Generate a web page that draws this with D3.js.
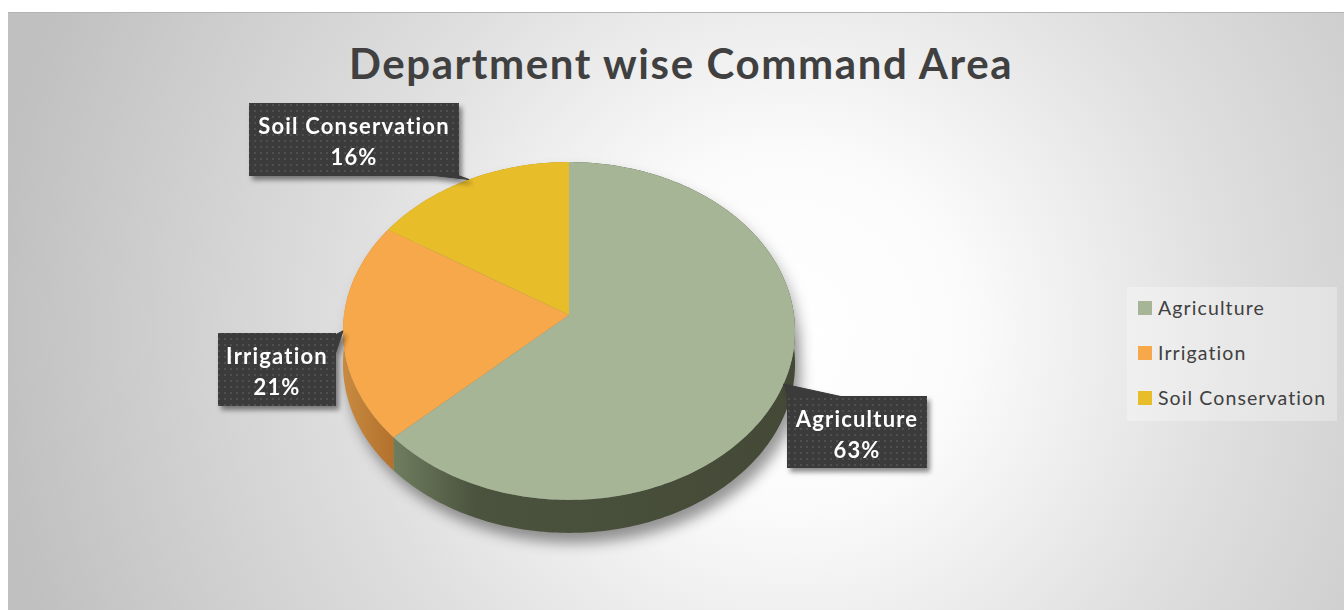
<!DOCTYPE html>
<html>
<head>
<meta charset="utf-8">
<script src="https://cdn.jsdelivr.net/npm/d3@7"></script>
<style>
  html, body { margin: 0; padding: 0; background: #ffffff; overflow: hidden; }
  svg { display: block; }
</style>
</head>
<body>
<svg id="chart" width="1344" height="610"></svg>
<script>
// ---- data ----
const categories = ["Agriculture", "Irrigation", "Soil Conservation"];
const shares = [63, 21, 16];
const percentLabels = ["63%", "21%", "16%"];
const chartTitle = "Department wise Command Area";

// ---- styles ----
const sliceColors = ["#a6b595", "#f7a84a", "#e8bd2a"];
const FONT = "Lato, 'Open Sans', 'DejaVu Sans', sans-serif";

// ---- layout ----
const W = 1344, H = 610;
const pieGeo = { cx: 569, cy: 315, r: 225, tilt: 0.744, persp: 0.0946, depth: 33 };
// data-label callout boxes: position, size and which edge the tail leaves from
const labelBoxes = [
  { x: 787, y: 396, w: 140, h: 72, tail: "top" },
  { x: 218, y: 333, w: 118, h: 73, tail: "right" },
  { x: 249, y: 103, w: 210, h: 73, tail: "bottom" }
];
const legendBox = { x: 1127, y: 287, w: 210, h: 134, rowStart: 308, rowGap: 45 };

const svg = d3.select("#chart");
const defs = svg.append("defs");

// background: soft radial gradient
const bgGrad = defs.append("radialGradient")
  .attr("id", "bgGrad").attr("gradientUnits", "userSpaceOnUse")
  .attr("cx", 790).attr("cy", 330).attr("r", 800);
[[0, "#ffffff"], [0.22, "#fbfbfb"], [0.55, "#dfdfdf"], [1, "#c0c0c0"]]
  .forEach(([o, c]) => bgGrad.append("stop").attr("offset", o).attr("stop-color", c));

svg.append("rect").attr("x", 8).attr("y", 12).attr("width", W - 8).attr("height", H - 12)
  .attr("fill", "url(#bgGrad)");
svg.append("line").attr("x1", 8).attr("x2", W).attr("y1", 12.5).attr("y2", 12.5)
  .attr("stroke", "#b4b4b4").attr("stroke-width", 1);

// filters
const blur = defs.append("filter").attr("id", "pieShadow")
  .attr("x", "-20%").attr("y", "-20%").attr("width", "140%").attr("height", "140%");
blur.append("feGaussianBlur").attr("stdDeviation", 7);

const drop = defs.append("filter").attr("id", "boxShadow")
  .attr("x", "-20%").attr("y", "-20%").attr("width", "140%").attr("height", "150%");
drop.append("feDropShadow").attr("dx", 3).attr("dy", 4).attr("stdDeviation", 2.5)
  .attr("flood-color", "#000").attr("flood-opacity", 0.45);

// dotted fill for callouts
const pat = defs.append("pattern").attr("id", "dots").attr("patternUnits", "userSpaceOnUse")
  .attr("width", 6).attr("height", 6);
pat.append("rect").attr("width", 6).attr("height", 6).attr("fill", "#3a3a3a");
pat.append("rect").attr("x", 2).attr("y", 2).attr("width", 2).attr("height", 2).attr("fill", "#4f4f4f");

// side-wall gradients
const sideGrads = [
  { id: "sideAgri", x1: 394, x2: 800, stops: [[0, "#6f7d5f"], [0.2, "#4b533e"], [1, "#434936"]] },
  { id: "sideIrr", x1: 343, x2: 396, stops: [[0, "#c88a40"], [1, "#b1702c"]] },
  { id: "sideSoil", x1: 380, x2: 570, stops: [[0, "#b8941c"], [1, "#a8861a"]] }
];
sideGrads.forEach(g => {
  const lg = defs.append("linearGradient").attr("id", g.id).attr("gradientUnits", "userSpaceOnUse")
    .attr("x1", g.x1).attr("x2", g.x2).attr("y1", 0).attr("y2", 0);
  g.stops.forEach(([o, c]) => lg.append("stop").attr("offset", o).attr("stop-color", c));
});

// ---- title ----
svg.append("text")
  .attr("x", 681).attr("y", 79)
  .attr("text-anchor", "middle")
  .attr("font-family", FONT).attr("font-weight", 700).attr("font-size", 42)
  .attr("letter-spacing", 1.6)
  .attr("fill", "#404040")
  .text(chartTitle);

// ---- 3D pie ----
// project an angle on the disc rim (clockwise from 12 o'clock) to screen space
function project(theta, dy = 0) {
  const u = Math.sin(theta), v = -Math.cos(theta);
  const s = 1 / (1 - pieGeo.persp * v);
  return [pieGeo.cx + pieGeo.r * u * s, pieGeo.cy + pieGeo.r * pieGeo.tilt * v * s + dy];
}
function rim(a0, a1, dy = 0) {
  const n = Math.max(8, Math.ceil(Math.abs(a1 - a0) * 60));
  return d3.range(n + 1).map(i => project(a0 + (a1 - a0) * i / n, dy));
}
const line = d3.line();

const arcs = d3.pie().sort(null).value(d => d)(shares);

// soft shadow under the whole pie
const fullTop = rim(0, 2 * Math.PI);
const fullBot = rim(0, 2 * Math.PI, pieGeo.depth);
svg.append("g").attr("filter", "url(#pieShadow)").attr("transform", "translate(5,9)")
  .selectAll("path").data([fullTop, fullBot]).join("path")
  .attr("d", d => line(d) + "Z").attr("fill", "#000").attr("fill-opacity", 0.28);
svg.append("path")
  .attr("d", line(rim(Math.PI / 2, 1.5 * Math.PI, pieGeo.depth).concat(rim(1.5 * Math.PI, Math.PI / 2, 0))) + "Z")
  .attr("fill", "#000").attr("fill-opacity", 0.18).attr("filter", "url(#pieShadow)")
  .attr("transform", "translate(6,10)");

// side walls
const sideFill = ["url(#sideAgri)", "url(#sideIrr)", "url(#sideSoil)"];
svg.append("g").selectAll("path").data(arcs).join("path")
  .attr("d", d => {
    const top = rim(d.startAngle, d.endAngle);
    const bot = rim(d.endAngle, d.startAngle, pieGeo.depth);
    return line(top.concat(bot)) + "Z";
  })
  .attr("fill", (d, i) => sideFill[i]);

// top faces
svg.append("g").selectAll("path").data(arcs).join("path")
  .attr("d", d => line([[pieGeo.cx, pieGeo.cy]].concat(rim(d.startAngle, d.endAngle))) + "Z")
  .attr("fill", (d, i) => sliceColors[i]);

// ---- data-label callouts ----
const callouts = svg.append("g").attr("filter", "url(#boxShadow)");
arcs.forEach((d, i) => {
  const b = labelBoxes[i];
  const anchor = project((d.startAngle + d.endAngle) / 2);
  let base;
  if (b.tail === "top") base = [[b.x + 2, b.y + 1], [b.x + 56, b.y + 1]];
  else if (b.tail === "right") base = [[b.x + b.w - 1, b.y + 22], [b.x + b.w - 1, b.y + 2]];
  else base = [[b.x + b.w - 30, b.y + b.h - 1], [b.x + b.w - 2, b.y + b.h - 1]];
  const g = callouts.append("g");
  g.append("path").attr("d", line([anchor, base[0], base[1]]) + "Z")
    .attr("fill", "#3a3a3a").attr("stroke", "#3a3a3a").attr("stroke-width", 1)
    .attr("stroke-linejoin", "round");
  g.append("rect").attr("x", b.x).attr("y", b.y).attr("width", b.w).attr("height", b.h)
    .attr("fill", "url(#dots)");
  const t = g.append("text")
    .attr("x", b.x + b.w / 2).attr("text-anchor", "middle")
    .attr("font-family", FONT).attr("font-weight", 700).attr("font-size", 22)
    .attr("letter-spacing", 1.2)
    .attr("fill", "#ffffff");
  t.append("tspan").attr("x", b.x + b.w / 2).attr("y", b.y + 31).text(categories[i]);
  t.append("tspan").attr("x", b.x + b.w / 2).attr("y", b.y + 62).text(percentLabels[i]);
});

// ---- legend ----
svg.append("rect").attr("x", legendBox.x).attr("y", legendBox.y)
  .attr("width", legendBox.w).attr("height", legendBox.h)
  .attr("fill", "#ffffff").attr("fill-opacity", 0.3);
const rowY = d3.scalePoint().domain(categories)
  .range([legendBox.rowStart, legendBox.rowStart + legendBox.rowGap * (categories.length - 1)]);
const items = svg.append("g").selectAll("g").data(categories).join("g")
  .attr("transform", d => `translate(${legendBox.x + 11},${rowY(d)})`);
items.append("rect").attr("x", 0).attr("y", -7).attr("width", 14).attr("height", 14)
  .attr("fill", (d, i) => sliceColors[i]);
items.append("text").attr("x", 20).attr("y", 0).attr("dy", "0.35em")
  .attr("font-family", FONT).attr("font-size", 19.5).attr("letter-spacing", 1.1)
  .attr("fill", "#404040")
  .text(d => d);
</script>
</body>
</html>
